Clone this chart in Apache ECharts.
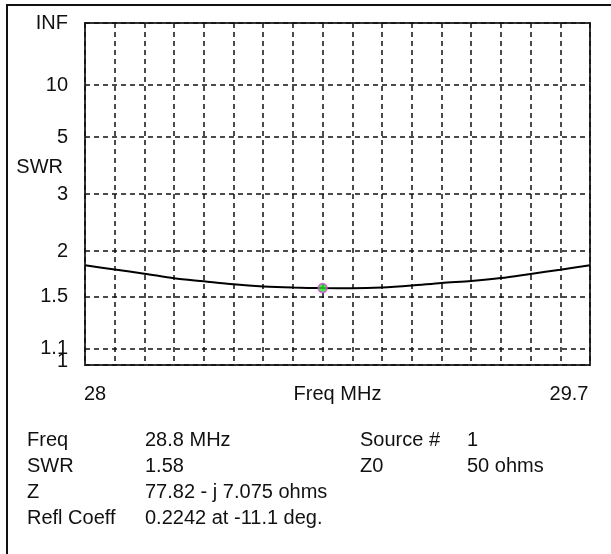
<!DOCTYPE html>
<html><head><meta charset="utf-8">
<script src="https://cdn.jsdelivr.net/npm/echarts@6/dist/echarts.min.js"></script>
<style>html,body{margin:0;padding:0;background:#fff}#c{width:611px;height:554px}</style>
</head><body><div id="c"></div>
<script>
// ---- data ----
const freqs = [28.0,28.1,28.2,28.3,28.4,28.5,28.6,28.7,28.8,28.9,29.0,29.1,29.2,29.3,29.4,29.5,29.6,29.7];
const swr   = [1.823,1.774,1.729,1.680,1.648,1.617,1.596,1.585,1.580,1.578,1.585,1.605,1.632,1.652,1.682,1.726,1.772,1.823];
const yTickSwr    = [1, 1.1, 1.5, 2, 3, 5, 10, Infinity];
const yTickLabels = ['1','1.1','1.5','2','3','5','10','INF'];
const xLabelValues = [28, 29.7];
const xLabelTexts  = ['28', '29.7'];
const markerFreq = 28.8;
const markerSwr  = 1.58;
const infoLabels  = ['Freq','SWR','Z','Refl Coeff'];
const infoValues  = ['28.8 MHz','1.58','77.82 - j 7.075 ohms','0.2242 at -11.1 deg.'];
const infoLabels2 = ['Source #','Z0'];
const infoValues2 = ['1','50 ohms'];

// SWR axis scale: linear in reflection-coefficient magnitude
const gam = s => isFinite(s) ? (s - 1) / (s + 1) : 1;
const yTickVals = yTickSwr.map(gam);

const FONT = '"Liberation Sans", Arial, sans-serif';
const chart = echarts.init(document.getElementById('c'));

function yLabel(v) {
  let best = 0, d = 1e9;
  yTickVals.forEach((t, i) => { const dd = Math.abs(t - v); if (dd < d) { d = dd; best = i; } });
  return yTickLabels[best];
}
function xLabel(v) {
  for (let i = 0; i < xLabelValues.length; i++) {
    if (Math.abs(v - xLabelValues[i]) < 1e-6) return (i === 0 ? '{l|' : '{r|') + xLabelTexts[i] + '}';
  }
  return '';
}

const graphics = [
  { type: 'rect', shape: { x: 7, y: 5, width: 800, height: 800 }, style: { fill: 'none', stroke: '#111', lineWidth: 2 }, silent: true }
];
const rowY = [440, 466, 492, 518];
infoLabels.forEach((t, i) => {
  graphics.push({ type: 'text', x: 27, y: rowY[i], style: { text: t, font: '20px ' + FONT, fill: '#111', verticalAlign: 'middle' } });
  graphics.push({ type: 'text', x: 145, y: rowY[i], style: { text: infoValues[i], font: '20px ' + FONT, fill: '#111', verticalAlign: 'middle' } });
});
infoLabels2.forEach((t, i) => {
  graphics.push({ type: 'text', x: 360, y: rowY[i], style: { text: t, font: '20px ' + FONT, fill: '#111', verticalAlign: 'middle' } });
  graphics.push({ type: 'text', x: 467, y: rowY[i], style: { text: infoValues2[i], font: '20px ' + FONT, fill: '#111', verticalAlign: 'middle' } });
});

const dashStyle = { color: '#111', width: 1.5, type: [5, 4] };
const labelBase = { color: '#111', fontSize: 20, fontFamily: FONT };

chart.setOption({
  animation: false,
  backgroundColor: '#fff',
  textStyle: { fontFamily: FONT },
  grid: { left: 85, right: 21, top: 23, bottom: 189, outerBoundsMode: 'none', containLabel: false,
          show: true, borderColor: '#333', borderWidth: 2, backgroundColor: 'transparent' },
  xAxis: {
    type: 'value', min: 28, max: 29.7, interval: 0.1,
    name: 'Freq MHz', nameLocation: 'middle', nameGap: 19, nameMoveOverlap: false,
    nameTextStyle: Object.assign({ verticalAlign: 'top' }, labelBase),
    axisLine: { show: false },
    axisTick: { show: false },
    splitLine: { show: true, lineStyle: dashStyle },
    axisLabel: Object.assign({
      customValues: xLabelValues, showMinLabel: true, showMaxLabel: true, hideOverlap: false,
      formatter: xLabel, margin: 19,
      rich: {
        l: Object.assign({ padding: [0, 0, 0, 20] }, labelBase),
        r: Object.assign({ padding: [0, 42, 0, 0] }, labelBase)
      }
    }, labelBase)
  },
  yAxis: [
    {
      type: 'value', min: 0, max: 1, position: 'left',
      name: 'SWR\n\n', nameLocation: 'middle', nameRotate: 0, nameGap: 22, nameMoveOverlap: false,
      nameTextStyle: Object.assign({ lineHeight: 27, align: 'right' }, labelBase),
      axisLine: { show: false },
      axisTick: { show: false, customValues: yTickVals },
      splitLine: { show: true, lineStyle: dashStyle },
      axisLabel: Object.assign({
        customValues: yTickVals.slice(1), formatter: yLabel, margin: 17,
        showMinLabel: true, showMaxLabel: true, hideOverlap: false
      }, labelBase)
    },
    {
      type: 'value', min: 0, max: 1, position: 'left', offset: 0,
      axisLine: { show: false }, axisTick: { show: false }, splitLine: { show: false },
      axisLabel: Object.assign({
        customValues: yTickVals.slice(0, 1), formatter: v => '{b|' + yLabel(v) + '}', margin: 17,
        showMinLabel: true, showMaxLabel: true, hideOverlap: false,
        rich: { b: Object.assign({ padding: [0, 0, 8, 0] }, labelBase) }
      }, labelBase)
    }
  ],
  graphic: graphics,
  series: [
    {
      type: 'line', data: freqs.map((f, i) => [f, gam(swr[i])]),
      showSymbol: false, symbol: 'none', smooth: 0.3,
      lineStyle: { color: '#000', width: 2 }, z: 3
    },
    {
      type: 'scatter', data: [[markerFreq, gam(markerSwr)]],
      symbol: 'circle', symbolSize: 9,
      itemStyle: { color: '#2bd92b', borderColor: '#e040e0', borderWidth: 1.5 }, z: 5
    }
  ]
});
</script></body></html>
